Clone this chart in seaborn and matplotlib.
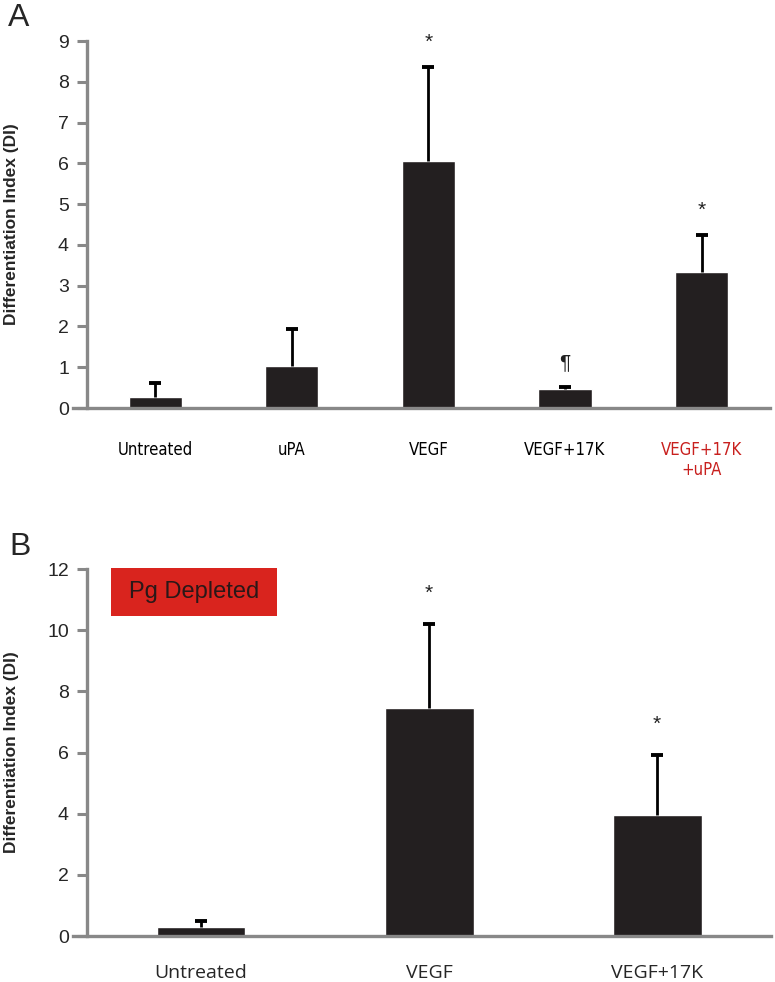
import matplotlib
matplotlib.use('Agg')
import matplotlib.pyplot as plt
import seaborn as sns
import numpy as np
import pandas as pd
from matplotlib.patches import Rectangle

# Panel A
a_groups = ['Untreated', 'uPA', 'VEGF', 'VEGF+17K', 'VEGF+17K\n+uPA']
a_means = [0.26, 1.03, 6.05, 0.47, 3.33]
a_err = [0.35, 0.91, 2.31, 0.04, 0.91]
a_marks = ['', '', '*', '\u00b6', '*']
a_label_colors = ['black', 'black', 'black', 'black', '#c8201e']

# Panel B (Pg depleted)
b_groups = ['Untreated', 'VEGF', 'VEGF+17K']
b_means = [0.30, 7.45, 3.95]
b_err = [0.18, 2.75, 1.97]
b_marks = ['', '*', '*']

BAR = '#231f20'
AXIS = '#888888'

sns.set_theme(style='white')
plt.rcParams['font.family'] = ['Liberation Sans', 'DejaVu Sans']

fig = plt.figure(figsize=(7.75, 9.82), dpi=100)
ax_a = fig.add_axes([0.1123, 0.5845, 0.881, 0.3737])
ax_b = fig.add_axes([0.1123, 0.0468, 0.8826, 0.3737])


def draw_panel(ax, groups, means, errs, marks, ymax, yticks, mark_off):
    df = pd.DataFrame({'group': groups, 'value': means})
    sns.barplot(data=df, x='group', y='value', ax=ax, color=BAR,
                width=0.39, errorbar=None, saturation=1)
    x = np.arange(len(groups))
    eb = ax.errorbar(x, means, yerr=[np.zeros(len(errs)), errs], fmt='none',
                     ecolor='black', elinewidth=2, capsize=4, capthick=2.8,
                     zorder=1)
    # only the upper cap is shown
    eb[1][0].set_visible(False)
    for xi, m, e, mk in zip(x, means, errs, marks):
        if mk:
            ax.annotate(mk, (xi, m + e), xytext=(0, mark_off),
                        textcoords='offset points', ha='center', va='center',
                        fontsize=15, color='#222222')
    ax.set_xlim(-0.5, len(groups) - 0.5)
    ax.set_ylim(0, ymax)
    ax.set_yticks(yticks)
    ax.set_xlabel('')
    ax.set_ylabel('Differentiation Index (DI)', fontsize=12.5, fontweight='bold')
    sns.despine(ax=ax)
    for s in ['left', 'bottom']:
        ax.spines[s].set_color(AXIS)
        ax.spines[s].set_linewidth(2.4)
    ax.tick_params(axis='y', direction='out', length=7, width=2.2, color=AXIS,
                   labelsize=14, pad=6, left=True)
    ax.tick_params(axis='x', length=0)
    ax.spines['bottom'].set_bounds(-0.5 - 0.02 * len(groups), len(groups) - 0.5)
    ax.spines['bottom'].set_clip_on(False)
    ax.yaxis.set_label_coords(-0.1, 0.5)


draw_panel(ax_a, a_groups, a_means, a_err, a_marks, 9, range(0, 10), 18)
ax_a.tick_params(axis='x', pad=24)
for lbl, c in zip(ax_a.get_xticklabels(), a_label_colors):
    lbl.set_color(c)
    lbl.set_family(['DejaVu Sans', 'Liberation Sans'])
    lbl.set_stretch('condensed')
    lbl.set_fontsize(12)
    lbl.set_linespacing(1.15)

draw_panel(ax_b, b_groups, b_means, b_err, b_marks, 12, range(0, 13, 2), 22)
ax_b.tick_params(axis='x', pad=20)
for lbl in ax_b.get_xticklabels():
    lbl.set_family(['Open Sans', 'DejaVu Sans'])
    lbl.set_fontsize(14)

# "Pg Depleted" box
ax_b.add_patch(Rectangle((0.035, 0.872), 0.243, 0.131, transform=ax_b.transAxes,
                         facecolor='#d9241e', edgecolor='none', clip_on=False))
ax_b.text(0.157, 0.937, 'Pg Depleted', transform=ax_b.transAxes, ha='center',
          va='center', fontsize=17, color='#2a1818')

fig.text(0.010, 0.997, 'A', fontsize=23, va='top', ha='left')
fig.text(0.012, 0.458, 'B', fontsize=23, va='top', ha='left')

fig.savefig('out.png', dpi=100)
